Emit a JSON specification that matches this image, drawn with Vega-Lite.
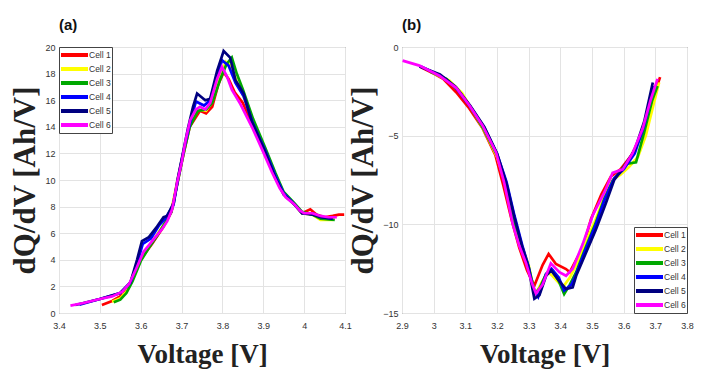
{
  "$schema": "https://vega.github.io/schema/vega-lite/v6.json",
  "background": "white",
  "padding": {"left": 9, "top": 17, "right": 5, "bottom": 5},
  "bounds": "flush",
  "spacing": 57,
  "config": {
    "view": {"stroke": "#5a5a5a", "strokeWidth": 1},
    "axis": {
      "labelFont": "Liberation Sans",
      "labelFontSize": 9,
      "labelColor": "#333333",
      "labelFlush": false,
      "titleFont": "Liberation Serif",
      "titleFontWeight": "bold",
      "titleColor": "#222222",
      "gridColor": "#e3e3e3",
      "gridWidth": 1,
      "domain": false,
      "ticks": false
    },
    "axisX": {"labelPadding": 8, "titleFontSize": 27, "titlePadding": 11},
    "axisY": {"labelPadding": 4, "titleFontSize": 31, "titlePadding": 3},
    "legend": {
      "title": null,
      "labelFont": "Liberation Sans",
      "labelFontSize": 8.5,
      "labelColor": "#333333",
      "symbolType": "M-3.86,0H3.86",
      "symbolSize": 49,
      "symbolStrokeWidth": 4,
      "symbolOffset": 9,
      "labelOffset": 9,
      "clipHeight": 14,
      "rowPadding": 0,
      "padding": 1,
      "strokeColor": "#444444",
      "fillColor": "white",
      "offset": 0
    },
    "title": {"font": "Liberation Sans", "fontSize": 15, "fontWeight": "bold", "color": "#111111", "anchor": "start", "frame": "group", "offset": 10}
  },
  "resolve": {"legend": {"color": "independent"}},
  "datasets": {
    "a": [
      {"cell": "Cell 1", "v": 3.505, "q": 0.6}, {"cell": "Cell 1", "v": 3.53, "q": 0.9}, {"cell": "Cell 1", "v": 3.558, "q": 1.4}, {"cell": "Cell 1", "v": 3.579, "q": 2.5}, {"cell": "Cell 1", "v": 3.599, "q": 4.0}, {"cell": "Cell 1", "v": 3.628, "q": 5.2}, {"cell": "Cell 1", "v": 3.656, "q": 6.5}, {"cell": "Cell 1", "v": 3.675, "q": 7.6}, {"cell": "Cell 1", "v": 3.69, "q": 9.8}, {"cell": "Cell 1", "v": 3.705, "q": 12.0}, {"cell": "Cell 1", "v": 3.72, "q": 14.0}, {"cell": "Cell 1", "v": 3.745, "q": 15.2}, {"cell": "Cell 1", "v": 3.76, "q": 15.0}, {"cell": "Cell 1", "v": 3.775, "q": 15.5}, {"cell": "Cell 1", "v": 3.79, "q": 17.2}, {"cell": "Cell 1", "v": 3.803, "q": 18.1}, {"cell": "Cell 1", "v": 3.815, "q": 17.6}, {"cell": "Cell 1", "v": 3.83, "q": 16.6}, {"cell": "Cell 1", "v": 3.85, "q": 15.8}, {"cell": "Cell 1", "v": 3.875, "q": 14.0}, {"cell": "Cell 1", "v": 3.9, "q": 12.3}, {"cell": "Cell 1", "v": 3.925, "q": 10.5}, {"cell": "Cell 1", "v": 3.95, "q": 9.0}, {"cell": "Cell 1", "v": 3.975, "q": 8.2}, {"cell": "Cell 1", "v": 3.995, "q": 7.5}, {"cell": "Cell 1", "v": 4.015, "q": 7.8}, {"cell": "Cell 1", "v": 4.03, "q": 7.4}, {"cell": "Cell 1", "v": 4.05, "q": 7.2}, {"cell": "Cell 1", "v": 4.07, "q": 7.3}, {"cell": "Cell 1", "v": 4.085, "q": 7.4}, {"cell": "Cell 1", "v": 4.098, "q": 7.4},
      {"cell": "Cell 2", "v": 3.53, "q": 0.85}, {"cell": "Cell 2", "v": 3.55, "q": 1.1}, {"cell": "Cell 2", "v": 3.565, "q": 1.6}, {"cell": "Cell 2", "v": 3.58, "q": 2.5}, {"cell": "Cell 2", "v": 3.6, "q": 4.0}, {"cell": "Cell 2", "v": 3.62, "q": 5.0}, {"cell": "Cell 2", "v": 3.64, "q": 5.9}, {"cell": "Cell 2", "v": 3.66, "q": 6.8}, {"cell": "Cell 2", "v": 3.675, "q": 7.7}, {"cell": "Cell 2", "v": 3.69, "q": 10.0}, {"cell": "Cell 2", "v": 3.705, "q": 12.1}, {"cell": "Cell 2", "v": 3.72, "q": 14.1}, {"cell": "Cell 2", "v": 3.74, "q": 15.3}, {"cell": "Cell 2", "v": 3.76, "q": 15.2}, {"cell": "Cell 2", "v": 3.775, "q": 15.9}, {"cell": "Cell 2", "v": 3.795, "q": 17.8}, {"cell": "Cell 2", "v": 3.808, "q": 18.9}, {"cell": "Cell 2", "v": 3.82, "q": 18.6}, {"cell": "Cell 2", "v": 3.835, "q": 17.4}, {"cell": "Cell 2", "v": 3.85, "q": 16.4}, {"cell": "Cell 2", "v": 3.875, "q": 14.4}, {"cell": "Cell 2", "v": 3.905, "q": 12.3}, {"cell": "Cell 2", "v": 3.93, "q": 10.4}, {"cell": "Cell 2", "v": 3.95, "q": 9.0}, {"cell": "Cell 2", "v": 3.975, "q": 8.2}, {"cell": "Cell 2", "v": 3.995, "q": 7.5}, {"cell": "Cell 2", "v": 4.02, "q": 7.4}, {"cell": "Cell 2", "v": 4.04, "q": 7.0}, {"cell": "Cell 2", "v": 4.07, "q": 7.0},
      {"cell": "Cell 3", "v": 3.534, "q": 0.8}, {"cell": "Cell 3", "v": 3.55, "q": 1.0}, {"cell": "Cell 3", "v": 3.565, "q": 1.5}, {"cell": "Cell 3", "v": 3.58, "q": 2.4}, {"cell": "Cell 3", "v": 3.6, "q": 3.9}, {"cell": "Cell 3", "v": 3.62, "q": 4.9}, {"cell": "Cell 3", "v": 3.64, "q": 5.8}, {"cell": "Cell 3", "v": 3.66, "q": 6.8}, {"cell": "Cell 3", "v": 3.675, "q": 7.6}, {"cell": "Cell 3", "v": 3.69, "q": 9.8}, {"cell": "Cell 3", "v": 3.705, "q": 12.0}, {"cell": "Cell 3", "v": 3.72, "q": 14.0}, {"cell": "Cell 3", "v": 3.74, "q": 15.2}, {"cell": "Cell 3", "v": 3.76, "q": 15.3}, {"cell": "Cell 3", "v": 3.775, "q": 15.8}, {"cell": "Cell 3", "v": 3.795, "q": 17.6}, {"cell": "Cell 3", "v": 3.81, "q": 18.7}, {"cell": "Cell 3", "v": 3.823, "q": 19.2}, {"cell": "Cell 3", "v": 3.835, "q": 18.0}, {"cell": "Cell 3", "v": 3.85, "q": 16.8}, {"cell": "Cell 3", "v": 3.875, "q": 14.6}, {"cell": "Cell 3", "v": 3.905, "q": 12.4}, {"cell": "Cell 3", "v": 3.93, "q": 10.5}, {"cell": "Cell 3", "v": 3.95, "q": 9.1}, {"cell": "Cell 3", "v": 3.975, "q": 8.3}, {"cell": "Cell 3", "v": 3.995, "q": 7.6}, {"cell": "Cell 3", "v": 4.02, "q": 7.4}, {"cell": "Cell 3", "v": 4.04, "q": 7.1}, {"cell": "Cell 3", "v": 4.075, "q": 7.0},
      {"cell": "Cell 4", "v": 3.45, "q": 0.62}, {"cell": "Cell 4", "v": 3.5, "q": 1.05}, {"cell": "Cell 4", "v": 3.55, "q": 1.5}, {"cell": "Cell 4", "v": 3.575, "q": 2.3}, {"cell": "Cell 4", "v": 3.592, "q": 3.8}, {"cell": "Cell 4", "v": 3.605, "q": 5.2}, {"cell": "Cell 4", "v": 3.625, "q": 5.6}, {"cell": "Cell 4", "v": 3.645, "q": 6.6}, {"cell": "Cell 4", "v": 3.66, "q": 7.1}, {"cell": "Cell 4", "v": 3.68, "q": 8.1}, {"cell": "Cell 4", "v": 3.692, "q": 10.2}, {"cell": "Cell 4", "v": 3.705, "q": 12.2}, {"cell": "Cell 4", "v": 3.72, "q": 14.2}, {"cell": "Cell 4", "v": 3.735, "q": 15.9}, {"cell": "Cell 4", "v": 3.755, "q": 15.6}, {"cell": "Cell 4", "v": 3.77, "q": 16.0}, {"cell": "Cell 4", "v": 3.787, "q": 17.9}, {"cell": "Cell 4", "v": 3.799, "q": 19.0}, {"cell": "Cell 4", "v": 3.815, "q": 18.6}, {"cell": "Cell 4", "v": 3.832, "q": 17.3}, {"cell": "Cell 4", "v": 3.852, "q": 16.3}, {"cell": "Cell 4", "v": 3.875, "q": 14.2}, {"cell": "Cell 4", "v": 3.905, "q": 12.2}, {"cell": "Cell 4", "v": 3.93, "q": 10.3}, {"cell": "Cell 4", "v": 3.95, "q": 9.0}, {"cell": "Cell 4", "v": 3.975, "q": 8.2}, {"cell": "Cell 4", "v": 3.995, "q": 7.5}, {"cell": "Cell 4", "v": 4.02, "q": 7.5}, {"cell": "Cell 4", "v": 4.045, "q": 7.2}, {"cell": "Cell 4", "v": 4.07, "q": 7.1},
      {"cell": "Cell 5", "v": 3.44, "q": 0.6}, {"cell": "Cell 5", "v": 3.5, "q": 1.05}, {"cell": "Cell 5", "v": 3.55, "q": 1.5}, {"cell": "Cell 5", "v": 3.575, "q": 2.3}, {"cell": "Cell 5", "v": 3.591, "q": 4.0}, {"cell": "Cell 5", "v": 3.603, "q": 5.4}, {"cell": "Cell 5", "v": 3.62, "q": 5.7}, {"cell": "Cell 5", "v": 3.64, "q": 6.5}, {"cell": "Cell 5", "v": 3.656, "q": 7.2}, {"cell": "Cell 5", "v": 3.665, "q": 7.3}, {"cell": "Cell 5", "v": 3.681, "q": 8.3}, {"cell": "Cell 5", "v": 3.69, "q": 10.0}, {"cell": "Cell 5", "v": 3.7, "q": 11.5}, {"cell": "Cell 5", "v": 3.715, "q": 13.8}, {"cell": "Cell 5", "v": 3.728, "q": 15.5}, {"cell": "Cell 5", "v": 3.738, "q": 16.5}, {"cell": "Cell 5", "v": 3.758, "q": 16.0}, {"cell": "Cell 5", "v": 3.77, "q": 16.1}, {"cell": "Cell 5", "v": 3.787, "q": 18.2}, {"cell": "Cell 5", "v": 3.803, "q": 19.7}, {"cell": "Cell 5", "v": 3.819, "q": 19.2}, {"cell": "Cell 5", "v": 3.832, "q": 17.5}, {"cell": "Cell 5", "v": 3.852, "q": 16.5}, {"cell": "Cell 5", "v": 3.872, "q": 14.4}, {"cell": "Cell 5", "v": 3.905, "q": 12.1}, {"cell": "Cell 5", "v": 3.929, "q": 10.2}, {"cell": "Cell 5", "v": 3.95, "q": 8.9}, {"cell": "Cell 5", "v": 3.975, "q": 8.2}, {"cell": "Cell 5", "v": 3.995, "q": 7.5}, {"cell": "Cell 5", "v": 4.02, "q": 7.4}, {"cell": "Cell 5", "v": 4.04, "q": 7.2}, {"cell": "Cell 5", "v": 4.07, "q": 7.1},
      {"cell": "Cell 6", "v": 3.428, "q": 0.55}, {"cell": "Cell 6", "v": 3.46, "q": 0.75}, {"cell": "Cell 6", "v": 3.5, "q": 1.05}, {"cell": "Cell 6", "v": 3.53, "q": 1.25}, {"cell": "Cell 6", "v": 3.555, "q": 1.6}, {"cell": "Cell 6", "v": 3.572, "q": 2.2}, {"cell": "Cell 6", "v": 3.59, "q": 3.4}, {"cell": "Cell 6", "v": 3.607, "q": 4.6}, {"cell": "Cell 6", "v": 3.628, "q": 5.4}, {"cell": "Cell 6", "v": 3.652, "q": 6.3}, {"cell": "Cell 6", "v": 3.665, "q": 6.9}, {"cell": "Cell 6", "v": 3.677, "q": 7.8}, {"cell": "Cell 6", "v": 3.689, "q": 9.8}, {"cell": "Cell 6", "v": 3.7, "q": 11.3}, {"cell": "Cell 6", "v": 3.71, "q": 13.0}, {"cell": "Cell 6", "v": 3.721, "q": 14.5}, {"cell": "Cell 6", "v": 3.735, "q": 15.3}, {"cell": "Cell 6", "v": 3.745, "q": 15.5}, {"cell": "Cell 6", "v": 3.758, "q": 15.3}, {"cell": "Cell 6", "v": 3.77, "q": 15.8}, {"cell": "Cell 6", "v": 3.787, "q": 17.6}, {"cell": "Cell 6", "v": 3.799, "q": 18.5}, {"cell": "Cell 6", "v": 3.811, "q": 17.8}, {"cell": "Cell 6", "v": 3.823, "q": 16.8}, {"cell": "Cell 6", "v": 3.844, "q": 15.7}, {"cell": "Cell 6", "v": 3.872, "q": 14.0}, {"cell": "Cell 6", "v": 3.897, "q": 12.3}, {"cell": "Cell 6", "v": 3.921, "q": 10.6}, {"cell": "Cell 6", "v": 3.94, "q": 9.4}, {"cell": "Cell 6", "v": 3.955, "q": 8.7}, {"cell": "Cell 6", "v": 3.975, "q": 8.2}, {"cell": "Cell 6", "v": 3.99, "q": 7.7}, {"cell": "Cell 6", "v": 4.0, "q": 7.5}, {"cell": "Cell 6", "v": 4.02, "q": 7.5}, {"cell": "Cell 6", "v": 4.04, "q": 7.3}, {"cell": "Cell 6", "v": 4.06, "q": 7.2}, {"cell": "Cell 6", "v": 4.08, "q": 7.2}
    ],
    "b": [
      {"cell": "Cell 1", "v": 2.96, "q": -1.15}, {"cell": "Cell 1", "v": 3.0, "q": -1.5}, {"cell": "Cell 1", "v": 3.03, "q": -1.8}, {"cell": "Cell 1", "v": 3.071, "q": -2.55}, {"cell": "Cell 1", "v": 3.11, "q": -3.4}, {"cell": "Cell 1", "v": 3.155, "q": -4.6}, {"cell": "Cell 1", "v": 3.195, "q": -6.1}, {"cell": "Cell 1", "v": 3.22, "q": -7.8}, {"cell": "Cell 1", "v": 3.247, "q": -9.8}, {"cell": "Cell 1", "v": 3.27, "q": -11.3}, {"cell": "Cell 1", "v": 3.295, "q": -12.6}, {"cell": "Cell 1", "v": 3.318, "q": -13.46}, {"cell": "Cell 1", "v": 3.344, "q": -12.3}, {"cell": "Cell 1", "v": 3.363, "q": -11.67}, {"cell": "Cell 1", "v": 3.386, "q": -12.24}, {"cell": "Cell 1", "v": 3.418, "q": -12.52}, {"cell": "Cell 1", "v": 3.43, "q": -12.7}, {"cell": "Cell 1", "v": 3.45, "q": -12.0}, {"cell": "Cell 1", "v": 3.471, "q": -11.3}, {"cell": "Cell 1", "v": 3.497, "q": -9.7}, {"cell": "Cell 1", "v": 3.53, "q": -8.3}, {"cell": "Cell 1", "v": 3.56, "q": -7.3}, {"cell": "Cell 1", "v": 3.59, "q": -6.9}, {"cell": "Cell 1", "v": 3.625, "q": -6.1}, {"cell": "Cell 1", "v": 3.655, "q": -5.0}, {"cell": "Cell 1", "v": 3.685, "q": -3.3}, {"cell": "Cell 1", "v": 3.715, "q": -1.7},
      {"cell": "Cell 2", "v": 3.0, "q": -1.5}, {"cell": "Cell 2", "v": 3.05, "q": -1.9}, {"cell": "Cell 2", "v": 3.09, "q": -2.6}, {"cell": "Cell 2", "v": 3.13, "q": -3.8}, {"cell": "Cell 2", "v": 3.165, "q": -4.9}, {"cell": "Cell 2", "v": 3.2, "q": -6.2}, {"cell": "Cell 2", "v": 3.225, "q": -7.6}, {"cell": "Cell 2", "v": 3.25, "q": -9.5}, {"cell": "Cell 2", "v": 3.275, "q": -11.0}, {"cell": "Cell 2", "v": 3.3, "q": -12.3}, {"cell": "Cell 2", "v": 3.32, "q": -14.0}, {"cell": "Cell 2", "v": 3.34, "q": -13.3}, {"cell": "Cell 2", "v": 3.36, "q": -12.7}, {"cell": "Cell 2", "v": 3.375, "q": -12.9}, {"cell": "Cell 2", "v": 3.395, "q": -13.3}, {"cell": "Cell 2", "v": 3.41, "q": -13.5}, {"cell": "Cell 2", "v": 3.43, "q": -13.0}, {"cell": "Cell 2", "v": 3.45, "q": -12.3}, {"cell": "Cell 2", "v": 3.48, "q": -11.0}, {"cell": "Cell 2", "v": 3.51, "q": -9.8}, {"cell": "Cell 2", "v": 3.54, "q": -8.4}, {"cell": "Cell 2", "v": 3.565, "q": -7.5}, {"cell": "Cell 2", "v": 3.59, "q": -7.2}, {"cell": "Cell 2", "v": 3.615, "q": -6.8}, {"cell": "Cell 2", "v": 3.645, "q": -6.2}, {"cell": "Cell 2", "v": 3.67, "q": -5.0}, {"cell": "Cell 2", "v": 3.695, "q": -3.2}, {"cell": "Cell 2", "v": 3.712, "q": -2.0},
      {"cell": "Cell 3", "v": 2.99, "q": -1.4}, {"cell": "Cell 3", "v": 3.04, "q": -1.8}, {"cell": "Cell 3", "v": 3.08, "q": -2.5}, {"cell": "Cell 3", "v": 3.12, "q": -3.5}, {"cell": "Cell 3", "v": 3.16, "q": -4.7}, {"cell": "Cell 3", "v": 3.2, "q": -6.1}, {"cell": "Cell 3", "v": 3.225, "q": -7.5}, {"cell": "Cell 3", "v": 3.25, "q": -9.6}, {"cell": "Cell 3", "v": 3.275, "q": -11.0}, {"cell": "Cell 3", "v": 3.3, "q": -12.4}, {"cell": "Cell 3", "v": 3.32, "q": -13.9}, {"cell": "Cell 3", "v": 3.335, "q": -13.6}, {"cell": "Cell 3", "v": 3.355, "q": -12.8}, {"cell": "Cell 3", "v": 3.375, "q": -12.6}, {"cell": "Cell 3", "v": 3.395, "q": -13.2}, {"cell": "Cell 3", "v": 3.412, "q": -13.93}, {"cell": "Cell 3", "v": 3.43, "q": -13.4}, {"cell": "Cell 3", "v": 3.45, "q": -12.7}, {"cell": "Cell 3", "v": 3.48, "q": -11.3}, {"cell": "Cell 3", "v": 3.51, "q": -10.0}, {"cell": "Cell 3", "v": 3.54, "q": -8.5}, {"cell": "Cell 3", "v": 3.565, "q": -7.55}, {"cell": "Cell 3", "v": 3.59, "q": -7.0}, {"cell": "Cell 3", "v": 3.607, "q": -6.6}, {"cell": "Cell 3", "v": 3.639, "q": -6.5}, {"cell": "Cell 3", "v": 3.665, "q": -4.8}, {"cell": "Cell 3", "v": 3.69, "q": -3.0}, {"cell": "Cell 3", "v": 3.707, "q": -2.2},
      {"cell": "Cell 4", "v": 2.96, "q": -1.1}, {"cell": "Cell 4", "v": 3.02, "q": -1.6}, {"cell": "Cell 4", "v": 3.07, "q": -2.3}, {"cell": "Cell 4", "v": 3.115, "q": -3.35}, {"cell": "Cell 4", "v": 3.16, "q": -4.55}, {"cell": "Cell 4", "v": 3.2, "q": -6.0}, {"cell": "Cell 4", "v": 3.23, "q": -7.6}, {"cell": "Cell 4", "v": 3.255, "q": -9.5}, {"cell": "Cell 4", "v": 3.28, "q": -11.2}, {"cell": "Cell 4", "v": 3.3, "q": -12.4}, {"cell": "Cell 4", "v": 3.315, "q": -13.7}, {"cell": "Cell 4", "v": 3.33, "q": -14.1}, {"cell": "Cell 4", "v": 3.355, "q": -12.8}, {"cell": "Cell 4", "v": 3.372, "q": -12.5}, {"cell": "Cell 4", "v": 3.395, "q": -13.0}, {"cell": "Cell 4", "v": 3.412, "q": -13.74}, {"cell": "Cell 4", "v": 3.435, "q": -13.4}, {"cell": "Cell 4", "v": 3.45, "q": -12.8}, {"cell": "Cell 4", "v": 3.48, "q": -11.4}, {"cell": "Cell 4", "v": 3.51, "q": -10.1}, {"cell": "Cell 4", "v": 3.54, "q": -8.6}, {"cell": "Cell 4", "v": 3.57, "q": -7.4}, {"cell": "Cell 4", "v": 3.6, "q": -6.9}, {"cell": "Cell 4", "v": 3.635, "q": -6.0}, {"cell": "Cell 4", "v": 3.665, "q": -4.4}, {"cell": "Cell 4", "v": 3.695, "q": -2.2},
      {"cell": "Cell 5", "v": 2.955, "q": -1.1}, {"cell": "Cell 5", "v": 3.02, "q": -1.55}, {"cell": "Cell 5", "v": 3.07, "q": -2.25}, {"cell": "Cell 5", "v": 3.115, "q": -3.3}, {"cell": "Cell 5", "v": 3.16, "q": -4.5}, {"cell": "Cell 5", "v": 3.2, "q": -6.0}, {"cell": "Cell 5", "v": 3.23, "q": -7.7}, {"cell": "Cell 5", "v": 3.255, "q": -9.6}, {"cell": "Cell 5", "v": 3.28, "q": -11.3}, {"cell": "Cell 5", "v": 3.3, "q": -12.5}, {"cell": "Cell 5", "v": 3.318, "q": -14.2}, {"cell": "Cell 5", "v": 3.334, "q": -14.0}, {"cell": "Cell 5", "v": 3.355, "q": -12.9}, {"cell": "Cell 5", "v": 3.371, "q": -12.6}, {"cell": "Cell 5", "v": 3.397, "q": -13.2}, {"cell": "Cell 5", "v": 3.418, "q": -13.65}, {"cell": "Cell 5", "v": 3.439, "q": -13.55}, {"cell": "Cell 5", "v": 3.45, "q": -12.9}, {"cell": "Cell 5", "v": 3.481, "q": -11.6}, {"cell": "Cell 5", "v": 3.512, "q": -10.3}, {"cell": "Cell 5", "v": 3.544, "q": -8.8}, {"cell": "Cell 5", "v": 3.57, "q": -7.5}, {"cell": "Cell 5", "v": 3.6, "q": -6.8}, {"cell": "Cell 5", "v": 3.635, "q": -5.8}, {"cell": "Cell 5", "v": 3.665, "q": -4.2}, {"cell": "Cell 5", "v": 3.692, "q": -2.0},
      {"cell": "Cell 6", "v": 2.902, "q": -0.77}, {"cell": "Cell 6", "v": 2.955, "q": -1.05}, {"cell": "Cell 6", "v": 3.018, "q": -1.62}, {"cell": "Cell 6", "v": 3.071, "q": -2.3}, {"cell": "Cell 6", "v": 3.113, "q": -3.3}, {"cell": "Cell 6", "v": 3.155, "q": -4.45}, {"cell": "Cell 6", "v": 3.197, "q": -5.95}, {"cell": "Cell 6", "v": 3.222, "q": -7.6}, {"cell": "Cell 6", "v": 3.25, "q": -10.0}, {"cell": "Cell 6", "v": 3.27, "q": -11.2}, {"cell": "Cell 6", "v": 3.292, "q": -12.2}, {"cell": "Cell 6", "v": 3.31, "q": -13.3}, {"cell": "Cell 6", "v": 3.323, "q": -13.9}, {"cell": "Cell 6", "v": 3.344, "q": -13.4}, {"cell": "Cell 6", "v": 3.37, "q": -12.2}, {"cell": "Cell 6", "v": 3.397, "q": -12.7}, {"cell": "Cell 6", "v": 3.418, "q": -12.9}, {"cell": "Cell 6", "v": 3.439, "q": -12.5}, {"cell": "Cell 6", "v": 3.471, "q": -11.1}, {"cell": "Cell 6", "v": 3.502, "q": -9.5}, {"cell": "Cell 6", "v": 3.539, "q": -8.2}, {"cell": "Cell 6", "v": 3.565, "q": -7.1}, {"cell": "Cell 6", "v": 3.597, "q": -6.9}, {"cell": "Cell 6", "v": 3.628, "q": -6.0}, {"cell": "Cell 6", "v": 3.66, "q": -4.6}, {"cell": "Cell 6", "v": 3.685, "q": -3.0}, {"cell": "Cell 6", "v": 3.707, "q": -1.8}
    ]
  },
  "hconcat": [
    {
      "width": 286,
      "height": 266,
      "title": {"text": "(a)"},
      "data": {"name": "a"},
      "mark": {"type": "line", "strokeWidth": 2.7, "clip": true},
      "encoding": {
        "x": {"field": "v", "type": "quantitative", "scale": {"domain": [3.4, 4.1], "nice": false, "zero": false}, "axis": {"values": [3.4, 3.5, 3.6, 3.7, 3.8, 3.9, 4.0, 4.1], "format": ".2~f", "title": "Voltage [V]"}},
        "y": {"field": "q", "type": "quantitative", "scale": {"domain": [0, 20], "nice": false}, "axis": {"values": [0, 2, 4, 6, 8, 10, 12, 14, 16, 18, 20], "title": "dQ/dV [Ah/V]"}},
        "color": {"field": "cell", "type": "nominal", "scale": {"domain": ["Cell 1", "Cell 2", "Cell 3", "Cell 4", "Cell 5", "Cell 6"], "range": ["#ff0000", "#ffff00", "#00a800", "#0000ff", "#000080", "#ff00ff"]}, "legend": {"orient": "top-left"}},
        "order": {"field": "v", "type": "quantitative"}
      }
    },
    {
      "width": 285,
      "height": 266,
      "title": {"text": "(b)"},
      "data": {"name": "b"},
      "mark": {"type": "line", "strokeWidth": 2.7, "clip": true},
      "encoding": {
        "x": {"field": "v", "type": "quantitative", "scale": {"domain": [2.9, 3.8], "nice": false, "zero": false}, "axis": {"values": [2.9, 3.0, 3.1, 3.2, 3.3, 3.4, 3.5, 3.6, 3.7, 3.8], "format": ".2~f", "title": "Voltage [V]"}},
        "y": {"field": "q", "type": "quantitative", "scale": {"domain": [-15, 0], "nice": false}, "axis": {"values": [-15, -10, -5, 0], "title": "dQ/dV [Ah/V]"}},
        "color": {"field": "cell", "type": "nominal", "scale": {"domain": ["Cell 1", "Cell 2", "Cell 3", "Cell 4", "Cell 5", "Cell 6"], "range": ["#ff0000", "#ffff00", "#00a800", "#0000ff", "#000080", "#ff00ff"]}, "legend": {"orient": "bottom-right"}},
        "order": {"field": "v", "type": "quantitative"}
      }
    }
  ]
}
